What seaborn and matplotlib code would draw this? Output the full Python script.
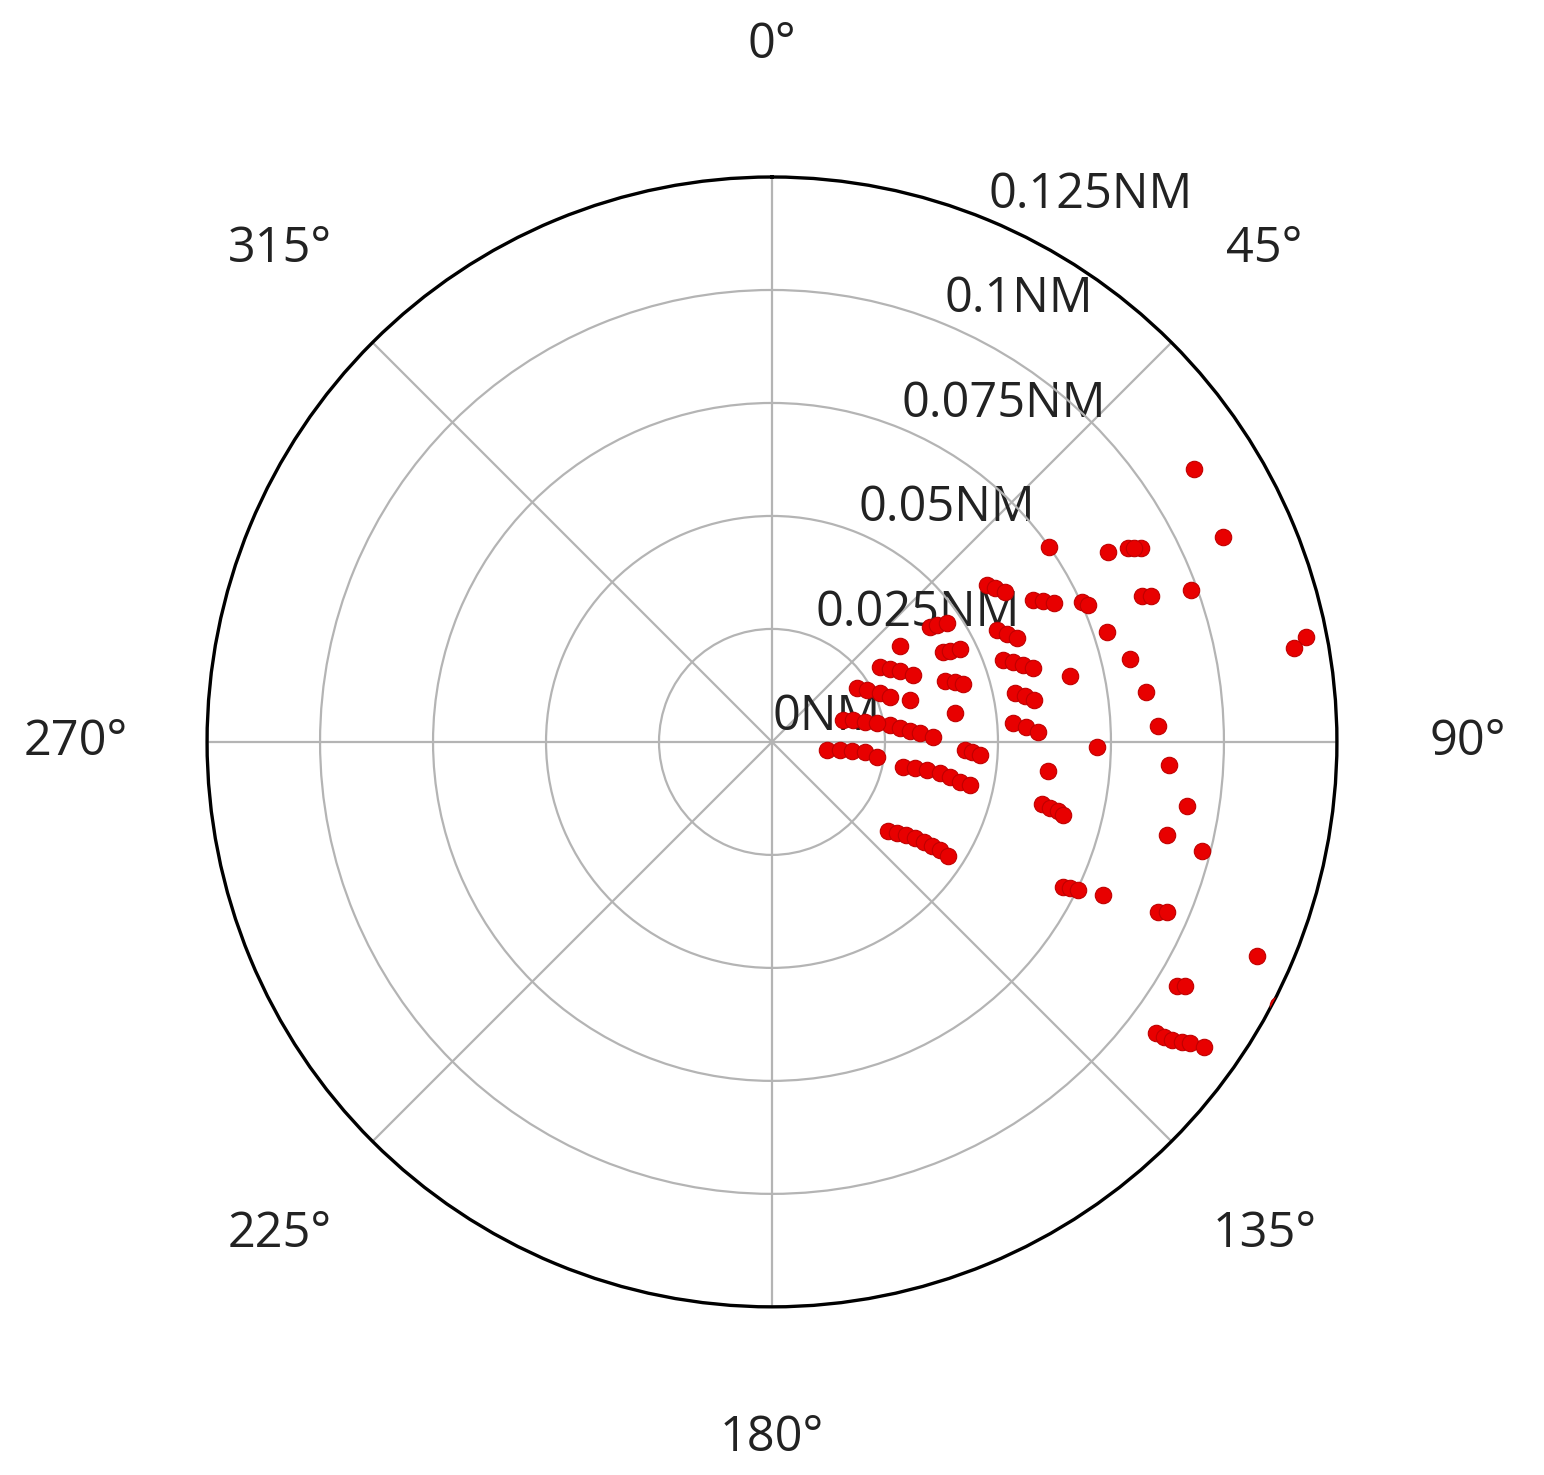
import numpy as np
import pandas as pd
import matplotlib
matplotlib.use("Agg")
import matplotlib.pyplot as plt
import seaborn as sns

# Bearing (degrees, clockwise from north) and distance (NM) of each detected point
bearing_deg = [
    57.1, 65.6, 54.8, 60.5, 61.4, 62.2, 61.8, 65.8, 68.5, 68.9,
    70.1, 71.8, 78.9, 79.8, 76.9, 77.5, 82.4, 87.6, 90.9, 96.0,
    93.3, 98.8, 102.9, 103.4, 103.6, 104.1, 103.3, 104.3, 116.5, 116.1,
    115.8, 114.8, 113.8, 113.3, 113.8, 121.1, 120.6, 127.2, 127.0, 126.7,
    126.2, 125.7, 125.3, 117.5,
    127.5, 126.1, 124.8, 123.9, 123.3, 123.0, 122.7, 122.9,
    100.8, 100.3, 100.2, 100.5, 101.1, 102.0, 102.3,
    98.3, 96.7, 96.4, 96.1, 98.1,
    92.4, 92.9, 93.6,
    81.8, 83.8, 85.4, 86.5, 88.2,
    72.8, 74.8, 77.9, 79.7,
    81.0, 73.1,
    57.6, 61.3, 65.6, 69.1,
    70.6, 71.8, 73.1,
    55.2, 58.3, 61.0, 64.6,
    53.1, 62.2, 62.9, 63.7,
    53.9, 54.7, 55.8,
    53.9, 55.4, 57.2,
    63.5, 65.3, 67.0,
    61.5, 62.5, 63.7,
    70.5, 71.6, 72.9, 74.2,
    78.6, 79.7, 80.9,
    85.5, 86.6, 87.8,
    66.6,
]
distance_nm = [
    0.1111, 0.1095, 0.0749, 0.0855, 0.0898, 0.0922, 0.0910, 0.0753, 0.0881, 0.0898,
    0.0985, 0.0781, 0.1204, 0.1173, 0.0814, 0.0676, 0.0834, 0.0854, 0.0720, 0.0615,
    0.0879, 0.0930, 0.0614, 0.0633, 0.0650, 0.0665, 0.0897, 0.0981, 0.0720, 0.0735,
    0.0753, 0.0808, 0.0933, 0.0951, 0.1172, 0.1046, 0.1061, 0.1066, 0.1085, 0.1105,
    0.1123, 0.1140, 0.1170, 0.1262,
    0.0324, 0.0343, 0.0361, 0.0382, 0.0403, 0.0423, 0.0443, 0.0465,
    0.0296, 0.0322, 0.0349, 0.0379, 0.0402, 0.0426, 0.0449,
    0.0123, 0.0152, 0.0178, 0.0207, 0.0235,
    0.0428, 0.0444, 0.0462,
    0.0264, 0.0285, 0.0307, 0.0329, 0.0357,
    0.0165, 0.0186, 0.0211, 0.0236,
    0.0411, 0.0320,
    0.0223, 0.0240, 0.0263, 0.0280,
    0.0406, 0.0427, 0.0442,
    0.0291, 0.0307, 0.0324, 0.0346,
    0.0355, 0.0428, 0.0443, 0.0465,
    0.0433, 0.0448, 0.0469,
    0.0590, 0.0600, 0.0614,
    0.0557, 0.0573, 0.0590,
    0.0658, 0.0677, 0.0695,
    0.0543, 0.0563, 0.0582, 0.0601,
    0.0549, 0.0568, 0.0586,
    0.0534, 0.0562, 0.0590,
    0.0763,
]

r_ticks = [0, 0.025, 0.05, 0.075, 0.1, 0.125]
r_tick_labels = ["0NM", "0.025NM", "0.05NM", "0.075NM", "0.1NM", "0.125NM"]
theta_ticks_deg = [0, 45, 90, 135, 180, 225, 270, 315]
theta_tick_labels = ["0°", "45°", "90°", "135°", "180°", "225°", "270°", "315°"]

sns.set_style("white")
plt.rcParams["font.family"] = ["Open Sans", "Noto Sans", "DejaVu Sans"]

df = pd.DataFrame({"theta": np.deg2rad(bearing_deg), "r": distance_nm})

fig = plt.figure(figsize=(15.44, 14.75), dpi=100)
ax = fig.add_axes([0.134, 0.114, 0.732, 0.766], projection="polar")
ax.set_theta_zero_location("N")
ax.set_theta_direction(-1)

sns.scatterplot(data=df, x="theta", y="r", ax=ax, color="#e80000",
                edgecolor="#c00000", linewidth=0.8, s=140, zorder=3, legend=False)

ax.set_ylim(0, 0.125)
ax.set_yticks(r_ticks)
ax.set_yticklabels(r_tick_labels)
ax.set_xticks(np.deg2rad(theta_ticks_deg))
ax.set_xticklabels(theta_tick_labels)
ax.set_rlabel_position(22.5)
ax.set_xlabel("")
ax.set_ylabel("")
ax.grid(True, color="#b4b4b4", linewidth=1.6)
ax.tick_params(axis="x", labelsize=35, pad=84, colors="#222222")
ax.tick_params(axis="y", labelsize=35, colors="#222222")
for lbl in ax.get_yticklabels():
    lbl.set_zorder(5)
ax.spines["polar"].set_color("black")
ax.spines["polar"].set_linewidth(2.4)

fig.savefig("out.png", dpi=100, facecolor="white")
